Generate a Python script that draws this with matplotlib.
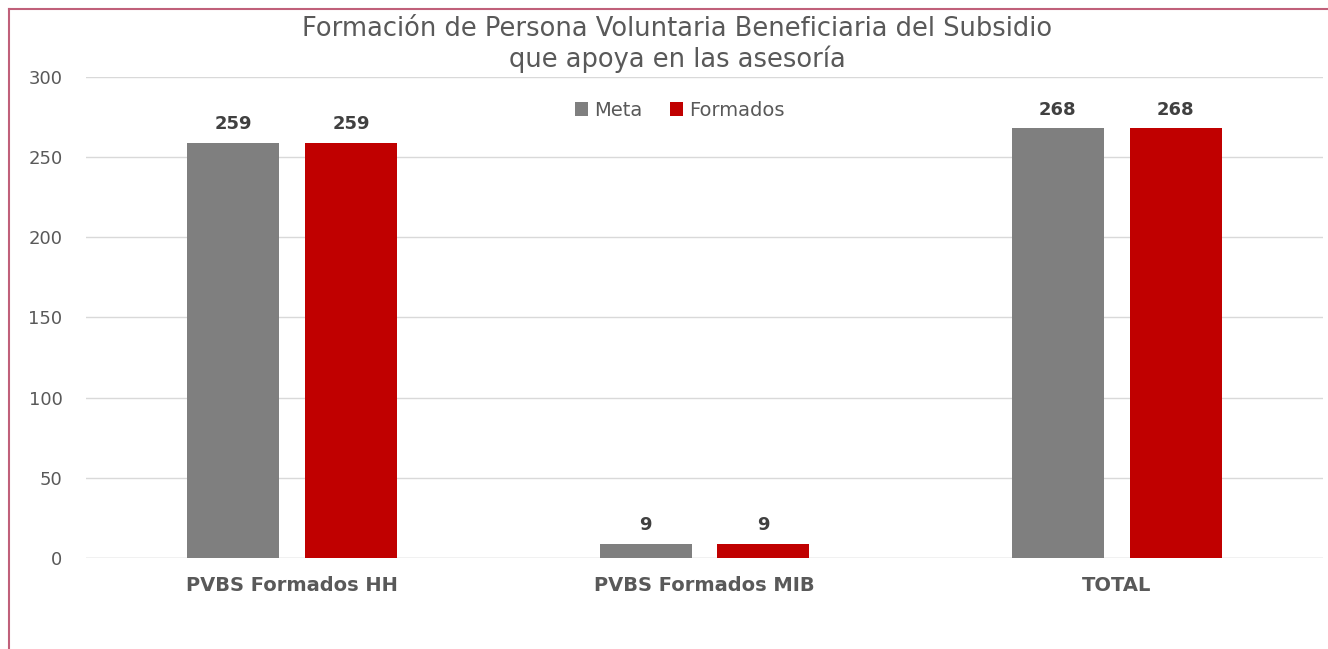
import numpy as np
import matplotlib.pyplot as plt

categorias = ['PVBS Formados HH', 'PVBS Formados MIB', 'TOTAL']
meta = [259, 9, 268]
formados = [259, 9, 268]

fig = plt.figure(figsize=(13.28, 6.49), dpi=100)
ax = fig.add_axes([0.0648, 0.1402, 0.9314, 0.7412])

x = np.arange(len(categorias))
w = 0.223
b1 = ax.bar(x - 0.143, meta, w, color='#7F7F7F', label='Meta', zorder=3)
b2 = ax.bar(x + 0.143, formados, w, color='#C00000', label='Formados', zorder=3)

for bars in (b1, b2):
    for r in bars:
        ax.text(r.get_x() + r.get_width() / 2, r.get_height() + 6, str(int(r.get_height())),
                ha='center', va='bottom', fontsize=13, fontweight='bold', color='#404040')

ax.set_xlim(-0.5, 2.5)
ax.set_ylim(0, 300)
ax.set_yticks(range(0, 301, 50))
ax.grid(axis='y', color='#D9D9D9', linewidth=1, zorder=0)
ax.set_xticks(x)
ax.set_xticklabels(categorias, fontsize=14, fontweight='bold', color='#595959')
ax.tick_params(axis='y', labelsize=13, labelcolor='#595959', length=0, pad=17)
ax.tick_params(axis='x', length=0, pad=13)
for s in ax.spines.values():
    s.set_visible(False)
ax.axhline(0, color='#D9D9D9', linewidth=1, zorder=2)

ax.legend(loc='center', bbox_to_anchor=(0.48, 0.931), ncol=2, frameon=False,
          fontsize=14, labelcolor='#595959', handlelength=0.7, handleheight=0.7,
          handletextpad=0.3, columnspacing=1.4)

fig.text(0.51, 0.975, 'Formación de Persona Voluntaria Beneficiaria del Subsidio\nque apoya en las asesoría',
         ha='center', va='top', fontsize=18.5, color='#595959', linespacing=1.15)

# borde rosado del recuadro
fig.add_artist(plt.Line2D([0.0068, 0.0068], [0, 0.986], transform=fig.transFigure, color='#C0607A', lw=1.5))
fig.add_artist(plt.Line2D([0.0068, 1], [0.986, 0.986], transform=fig.transFigure, color='#C0607A', lw=1.5))

plt.savefig('out.png', dpi=100)
